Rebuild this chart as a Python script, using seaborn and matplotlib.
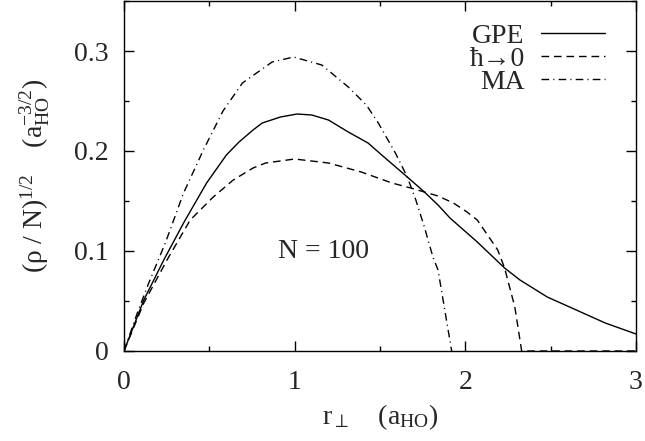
import matplotlib
matplotlib.use("Agg")
import matplotlib.pyplot as plt
import seaborn as sns
import numpy as np

# curves
r_gpe = [0, 0.116, 0.233, 0.349, 0.484, 0.60, 0.674, 0.756, 0.81, 0.917, 1.014, 1.10,
         1.198, 1.314, 1.43, 1.51, 1.66, 1.76, 1.84, 1.91, 1.99, 2.07, 2.23, 2.32,
         2.48, 2.65, 2.82, 3.0]
rho_gpe = [0, 0.051, 0.091, 0.128, 0.168, 0.196, 0.209, 0.221, 0.228, 0.234, 0.237, 0.236,
           0.231, 0.219, 0.208, 0.196, 0.174, 0.159, 0.146, 0.133, 0.121, 0.109, 0.083, 0.071,
           0.054, 0.041, 0.028, 0.017]

r_hbar = [0, 0.116, 0.252, 0.388, 0.523, 0.64, 0.756, 0.83, 1.0, 1.198, 1.39, 1.57,
          1.68, 1.76, 1.84, 1.93, 2.01, 2.07, 2.11, 2.19, 2.23, 2.29, 2.33, 3.0]
rho_hbar = [0, 0.048, 0.091, 0.131, 0.154, 0.171, 0.183, 0.188, 0.192, 0.188, 0.179, 0.168,
            0.163, 0.159, 0.155, 0.148, 0.139, 0.131, 0.121, 0.101, 0.083, 0.044, 0.0, 0.0]

r_ma = [0, 0.078, 0.145, 0.242, 0.349, 0.465, 0.58, 0.694, 0.868, 0.994, 1.159, 1.314,
        1.42, 1.49, 1.59, 1.66, 1.71, 1.76, 1.81, 1.84, 1.92]
rho_ma = [0, 0.038, 0.068, 0.108, 0.158, 0.201, 0.240, 0.268, 0.289, 0.294, 0.286, 0.264,
          0.246, 0.228, 0.198, 0.174, 0.151, 0.124, 0.094, 0.081, 0.0]

labels = ["GPE", "ħ→0", "MA"]
x_ticks = [0, 1, 2, 3]
y_ticks = [0, 0.1, 0.2, 0.3]

sns.set_style("ticks")
plt.rcParams["font.family"] = ["Liberation Serif", "DejaVu Serif"]
plt.rcParams["mathtext.fontset"] = "custom"
plt.rcParams["mathtext.rm"] = "Liberation Serif"
plt.rcParams["mathtext.it"] = "Liberation Serif:italic"
plt.rcParams["mathtext.bf"] = "Liberation Serif:bold"

fs = 20
fig = plt.figure(figsize=(6.45, 4.41), dpi=100)
ax = fig.add_axes([124 / 645, 90 / 441, 512 / 645, 350 / 441])

curves = [(r_gpe, rho_gpe, None), (r_hbar, rho_hbar, (5.5, 3.5)), (r_ma, rho_ma, (5.5, 3, 0.8, 3))]
for (xs, ys, dash), lab in zip(curves, labels):
    sns.lineplot(x=xs, y=ys, ax=ax, color="black", linewidth=1.0, label=lab, sort=False)
    if dash is not None:
        ax.lines[-1].set_dashes(dash)

ax.set_xlim(0, 3)
ax.set_ylim(0, 0.35)
ax.set_xticks(x_ticks)
ax.set_xticklabels([str(t) for t in x_ticks])
ax.set_yticks(y_ticks)
ax.set_yticklabels(["0", "0.1", "0.2", "0.3"])
ax.set_xticks(np.arange(0, 3.01, 0.5), minor=True)
ax.set_yticks(np.arange(0, 0.351, 0.05), minor=True)
ax.tick_params(which="both", direction="in", top=True, right=True, labelsize=fs,
               color="black", width=1.0)
ax.tick_params(axis="x", which="both", pad=14)
ax.tick_params(axis="y", which="both", pad=11)
ax.tick_params(which="major", length=7)
ax.tick_params(which="minor", length=3.5)
for s in ax.spines.values():
    s.set_linewidth(1.0)
    s.set_color("black")

ax.set_xlabel(r"$\mathrm{r}_{\perp}\quad\ (\mathrm{a}_{\mathrm{HO}})$", fontsize=fs, labelpad=5)
ax.set_ylabel(r"$(\mathrm{ρ}\ /\ \mathrm{N})^{1/2}\quad\ (\mathrm{a}_{\mathrm{HO}}^{-3/2})$",
              fontsize=fs, labelpad=16)

ax.text(0.9, 0.1, "N = 100", fontsize=fs, va="center", ha="left")

ax.legend(loc="upper right", bbox_to_anchor=(0.94, 0.936), markerfirst=False, frameon=False,
          fontsize=fs, handlelength=2.3, handletextpad=0.6, labelspacing=-0.09,
          borderpad=0, borderaxespad=0)

fig.savefig("out.png", dpi=100, facecolor="white")
